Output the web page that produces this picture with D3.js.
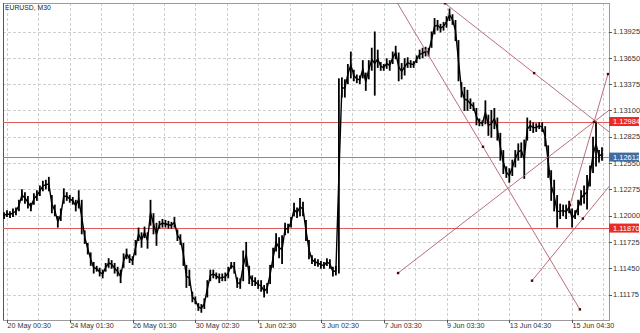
<!DOCTYPE html>
<html>
<head>
<meta charset="utf-8">
<script src="https://cdn.jsdelivr.net/npm/d3@7"></script>
<style>
  body { margin: 0; background: #fff; }
  svg { display: block; }
</style>
</head>
<body>
<script>
// chart size and plot frame
let width = 640, height = 333
let plot = { left: 3, top: 3, right: 609, bottom: 320 }

// M30 bars (high / low per bar)
const highs = [
  1.1203,1.1205,1.1204,1.1207,1.1208,1.1216,1.1227,1.1224,1.1220,1.1213,
  1.1223,1.1226,1.1231,1.1236,1.1237,1.1240,1.1221,1.1211,1.1199,1.1207,
  1.1228,1.1224,1.1221,1.1219,1.1216,1.1226,1.1216,1.1184,1.1171,1.1161,
  1.1151,1.1147,1.1145,1.1143,1.1150,1.1155,1.1153,1.1150,1.1146,1.1143,
  1.1160,1.1165,1.1159,1.1157,1.1174,1.1187,1.1182,1.1188,1.1182,1.1216,
  1.1202,1.1192,1.1194,1.1196,1.1195,1.1194,1.1193,1.1198,1.1185,1.1180,
  1.1171,1.1148,1.1143,1.1120,1.1115,1.1108,1.1107,1.1113,1.1132,1.1143,
  1.1143,1.1140,1.1139,1.1139,1.1140,1.1146,1.1151,1.1151,1.1135,1.1134,
  1.1163,1.1172,1.1147,1.1137,1.1135,1.1132,1.1132,1.1127,1.1129,1.1148,
  1.1166,1.1181,1.1177,1.1179,1.1192,1.1191,1.1198,1.1213,1.1208,1.1218,
  1.1214,1.1195,1.1174,1.1158,1.1155,1.1154,1.1152,1.1151,1.1155,1.1154,
  1.1146,1.1147,1.1343,1.1344,1.1342,1.1358,1.1371,1.1352,1.1347,1.1346,
  1.1362,1.1349,1.1362,1.1375,1.1392,1.1373,1.1360,1.1358,1.1364,1.1362,
  1.1371,1.1377,1.1370,1.1359,1.1364,1.1365,1.1362,1.1361,1.1367,1.1373,
  1.1375,1.1376,1.1375,1.1392,1.1406,1.1404,1.1400,1.1402,1.1408,1.1416,
  1.1410,1.1404,1.1383,1.1339,1.1334,1.1331,1.1322,1.1318,1.1312,1.1301,
  1.1299,1.1320,1.1305,1.1310,1.1312,1.1302,1.1286,1.1268,1.1251,1.1249,
  1.1258,1.1268,1.1275,1.1276,1.1279,1.1302,1.1299,1.1297,1.1296,1.1297,
  1.1297,1.1293,1.1273,1.1247,1.1237,1.1221,1.1212,1.1211,1.1211,1.1215,
  1.1207,1.1205,1.1216,1.1226,1.1231,1.1242,1.1252,1.1282,1.1298,1.1268,
  1.1271
]
const lows = [
  1.1197,1.1199,1.1198,1.1199,1.1201,1.1205,1.1216,1.1213,1.1208,1.1205,
  1.1212,1.1216,1.1221,1.1226,1.1228,1.1226,1.1203,1.1200,1.1188,1.1195,
  1.1213,1.1216,1.1214,1.1212,1.1205,1.1208,1.1181,1.1171,1.1160,1.1148,
  1.1140,1.1142,1.1137,1.1135,1.1142,1.1146,1.1145,1.1140,1.1137,1.1130,
  1.1146,1.1155,1.1151,1.1149,1.1159,1.1174,1.1167,1.1177,1.1166,1.1190,
  1.1181,1.1169,1.1187,1.1188,1.1188,1.1187,1.1187,1.1188,1.1174,1.1170,
  1.1148,1.1125,1.1127,1.1110,1.1108,1.1101,1.1099,1.1103,1.1115,1.1132,
  1.1135,1.1134,1.1130,1.1132,1.1132,1.1135,1.1145,1.1140,1.1125,1.1124,
  1.1132,1.1147,1.1129,1.1127,1.1127,1.1124,1.1121,1.1115,1.1119,1.1129,
  1.1146,1.1163,1.1156,1.1150,1.1180,1.1182,1.1188,1.1200,1.1198,1.1200,
  1.1200,1.1174,1.1155,1.1150,1.1148,1.1147,1.1145,1.1145,1.1148,1.1145,
  1.1137,1.1138,1.1140,1.1324,1.1324,1.1338,1.1344,1.1341,1.1339,1.1338,
  1.1344,1.1331,1.1343,1.1352,1.1326,1.1355,1.1352,1.1352,1.1354,1.1352,
  1.1359,1.1364,1.1341,1.1343,1.1347,1.1355,1.1355,1.1355,1.1360,1.1364,
  1.1365,1.1367,1.1367,1.1376,1.1390,1.1394,1.1392,1.1394,1.1397,1.1404,
  1.1400,1.1383,1.1341,1.1324,1.1310,1.1310,1.1312,1.1310,1.1295,1.1294,
  1.1294,1.1296,1.1284,1.1282,1.1291,1.1279,1.1258,1.1244,1.1240,1.1235,
  1.1242,1.1251,1.1258,1.1261,1.1239,1.1279,1.1289,1.1287,1.1288,1.1291,
  1.1288,1.1273,1.1240,1.1216,1.1205,1.1188,1.1197,1.1200,1.1197,1.1203,
  1.1188,1.1197,1.1201,1.1211,1.1213,1.1207,1.1231,1.1245,1.1252,1.1256,
  1.1258
]

// price axis ticks and time axis labels
const priceTicks = [1.13925, 1.13650, 1.13375, 1.13100, 1.12825, 1.12550,
                    1.12275, 1.12000, 1.11725, 1.11450, 1.11175]
const timeLabels = ["20 May 00:30", "24 May 01:30", "26 May 01:30", "30 May 02:30",
                    "1 Jun 02:30", "3 Jun 02:30", "7 Jun 03:30", "9 Jun 03:30",
                    "13 Jun 04:30", "15 Jun 04:30"]

// horizontal levels (red) and the bid line (blue)
const levelPrices = [1.12984, 1.11870]
const bidPrice = 1.12612

// trend lines: [bar1, price1, bar2, price2, extend past point 2]
const trendLines = [
  [192.6, 1.1102, 160.2, 1.1272, true],
  [147.5, 1.1422, 177.3, 1.1349, true],
  [131.8, 1.1140, 197.3, 1.1298, true],
  [176.6, 1.1132, 193.6, 1.1197, true],
  [189.3, 1.1211, 202.0, 1.1348, false]
]

// scales: bars are evenly spaced, price goes up
let x = d3.scaleLinear().domain([0, highs.length - 1]).range([4, 602])
let y = d3.scaleLinear().domain([1.10909, 1.14223]).range([plot.bottom, plot.top])

let fmt = d3.format(".5f")

let svg = d3.select("body")
  .append("svg")
  .attr("width", width)
  .attr("height", height)
  .attr("font-family", "'Liberation Sans', Arial, sans-serif")

svg.append("defs").append("clipPath").attr("id", "clip")
  .append("rect")
  .attr("x", plot.left).attr("y", plot.top)
  .attr("width", plot.right - plot.left).attr("height", plot.bottom - plot.top)

// grid
let gridIdx = d3.range(20).map(k => 1 + 10.5 * k)
let grid = svg.append("g")
  .attr("stroke", "#cfcfcf")
  .attr("stroke-dasharray", "3,2")
  .attr("shape-rendering", "crispEdges")

grid.selectAll(".v")
  .data(gridIdx)
  .join("line")
  .attr("x1", d => Math.round(x(d)) + 0.5).attr("x2", d => Math.round(x(d)) + 0.5)
  .attr("y1", plot.top).attr("y2", plot.bottom)

grid.selectAll(".h")
  .data(priceTicks)
  .join("line")
  .attr("x1", plot.left).attr("x2", plot.right)
  .attr("y1", d => Math.round(y(d)) + 0.5).attr("y2", d => Math.round(y(d)) + 0.5)

// frame
svg.append("rect")
  .attr("x", plot.left + 0.5).attr("y", plot.top + 0.5)
  .attr("width", plot.right - plot.left).attr("height", plot.bottom - plot.top)
  .attr("fill", "none")
  .attr("stroke", "#9a9a9a")
svg.append("line")
  .attr("x1", plot.left + 0.5).attr("x2", plot.left + 0.5)
  .attr("y1", plot.top).attr("y2", plot.bottom)
  .attr("stroke", "#555")

let chart = svg.append("g").attr("clip-path", "url(#clip)")

// red levels + blue bid line
chart.selectAll(".level")
  .data(levelPrices)
  .join("line")
  .attr("x1", plot.left).attr("x2", plot.right)
  .attr("y1", d => Math.round(y(d)) + 0.5).attr("y2", d => Math.round(y(d)) + 0.5)
  .attr("stroke", "#e05a5a")

chart.append("line")
  .attr("x1", plot.left).attr("x2", plot.right)
  .attr("y1", Math.round(y(bidPrice)) + 0.5).attr("y2", Math.round(y(bidPrice)) + 0.5)
  .attr("stroke", "#6f8fb3")

// price bars: each bar's stick, joined to the next bar
let bars = highs.map((h, i) => ({ i: i, high: h, low: lows[i] }))

chart.append("path")
  .datum(bars)
  .attr("fill", "none")
  .attr("stroke", "#000")
  .attr("stroke-width", 1.4)
  .attr("d", d3.line().x(d => x(d.i)).y(d => y((d.high + d.low) / 2)))

chart.append("g")
  .attr("stroke", "#000")
  .attr("stroke-width", 1.8)
  .selectAll("line")
  .data(bars)
  .join("line")
  .attr("x1", d => x(d.i)).attr("x2", d => x(d.i))
  .attr("y1", d => y(d.high) - 0.5).attr("y2", d => y(d.low) + 0.5)

// trend lines, extended to the plot edge where needed
let lineEnd = t => {
  let [b1, p1, b2, p2, ext] = t
  if (!ext) return [b2, p2]
  let slope = (p2 - p1) / (b2 - b1)
  let edge = b2 > b1 ? x.invert(plot.right + 2) : x.invert(plot.left - 2)
  return [edge, p1 + slope * (edge - b1)]
}

chart.append("g")
  .attr("stroke", "#b35f6c")
  .attr("stroke-width", 0.9)
  .selectAll("line")
  .data(trendLines)
  .join("line")
  .attr("x1", d => x(d[0])).attr("y1", d => y(d[1]))
  .attr("x2", d => x(lineEnd(d)[0])).attr("y2", d => y(lineEnd(d)[1]))

let anchors = trendLines.flatMap(d => [[d[0], d[1]], [d[2], d[3]]])
chart.append("g")
  .attr("fill", "#5a0000")
  .selectAll("rect")
  .data(anchors)
  .join("rect")
  .attr("x", d => x(d[0]) - 1.2).attr("y", d => y(d[1]) - 1.2)
  .attr("width", 2.4).attr("height", 2.4)

// title
svg.append("text")
  .attr("x", 5).attr("y", 10)
  .attr("font-size", 6.8)
  .attr("fill", "#222")
  .text("EURUSD, M30")

// price axis
let pAxis = svg.append("g").attr("font-size", 7.5).attr("fill", "#333")
pAxis.selectAll("line")
  .data(priceTicks)
  .join("line")
  .attr("x1", plot.right).attr("x2", plot.right + 3)
  .attr("y1", d => Math.round(y(d)) + 0.5).attr("y2", d => Math.round(y(d)) + 0.5)
  .attr("stroke", "#555")
pAxis.selectAll("text")
  .data(priceTicks)
  .join("text")
  .attr("x", plot.right + 4)
  .attr("y", d => y(d) + 2.7)
  .text(d => fmt(d))

// price tags for levels and bid
let tags = levelPrices.map(p => ({ p: p, c: "#ea2b25" })).concat([{ p: bidPrice, c: "#3f6d9e" }])
let tag = svg.append("g").selectAll("g").data(tags).join("g")
tag.append("rect")
  .attr("x", plot.right).attr("y", d => y(d.p) - 4.5)
  .attr("width", 30).attr("height", 9)
  .attr("fill", d => d.c)
tag.append("text")
  .attr("x", plot.right + 4).attr("y", d => y(d.p) + 2.7)
  .attr("font-size", 7.5).attr("fill", "#fff")
  .text(d => fmt(d.p))

// time axis
let tAxis = svg.append("g").attr("font-size", 7.2).attr("fill", "#333")
let tickPos = timeLabels.map((t, k) => ({ t: t, i: gridIdx[2 * k] }))
tAxis.selectAll("line")
  .data(tickPos)
  .join("line")
  .attr("x1", d => Math.round(x(d.i)) + 0.5).attr("x2", d => Math.round(x(d.i)) + 0.5)
  .attr("y1", plot.bottom).attr("y2", plot.bottom + 3)
  .attr("stroke", "#555")
tAxis.selectAll("text")
  .data(tickPos)
  .join("text")
  .attr("x", d => x(d.i) + 0.5)
  .attr("y", 328)
  .text(d => d.t)
</script>
</body>
</html>
